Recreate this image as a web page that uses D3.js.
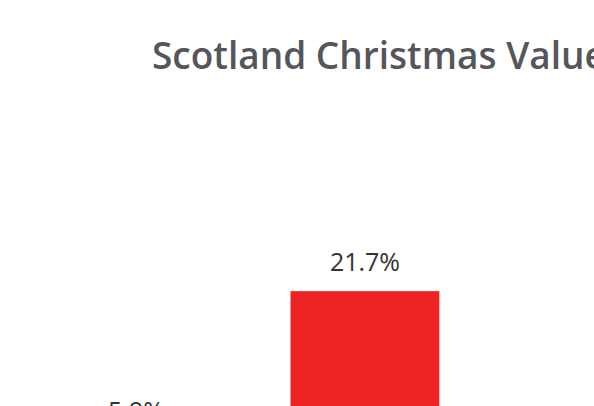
<!DOCTYPE html>
<html>
<head>
<meta charset="utf-8">
<script src="https://cdn.jsdelivr.net/npm/d3@7"></script>
<style>
  html, body { margin: 0; padding: 0; background: #fff; overflow: hidden; }
  svg { display: block; }
</style>
</head>
<body>
<script>
const title = "Scotland Christmas Value";
const categories = ["Bar 1", "Bar 2"];
const values = [5.9, 21.7];
const valueLabels = ["5.9%", "21.7%"];

const W = 594, H = 406;
const svg = d3.select("body").append("svg")
  .attr("width", W).attr("height", H)
  .style("overflow", "hidden");

const x = d3.scaleBand()
  .domain(categories)
  .range([-18.6, 519.5])
  .paddingInner(0.35)
  .paddingOuter(0.35);

const y = d3.scaleLinear()
  .domain([0, 25])
  .range([496, 260]);

svg.append("text")
  .attr("x", 152)
  .attr("y", 69)
  .attr("font-family", "'Open Sans', sans-serif")
  .attr("font-weight", 600)
  .attr("font-size", 37)
  .attr("fill", "#55565b")
  .text(title);

const g = svg.append("g");
g.selectAll("rect").data(values).join("rect")
  .attr("x", (d, i) => x(categories[i]))
  .attr("width", x.bandwidth())
  .attr("y", d => y(d))
  .attr("height", d => y(0) - y(d))
  .attr("fill", "#ee2324");

g.selectAll("text.lbl").data(values).join("text")
  .attr("class", "lbl")
  .attr("x", (d, i) => x(categories[i]) + x.bandwidth() / 2)
  .attr("y", d => y(d) - 20)
  .attr("text-anchor", "middle")
  .attr("font-family", "'Open Sans', sans-serif")
  .attr("font-size", 25)
  .attr("fill", "#333333")
  .text((d, i) => valueLabels[i]);
</script>
</body>
</html>
